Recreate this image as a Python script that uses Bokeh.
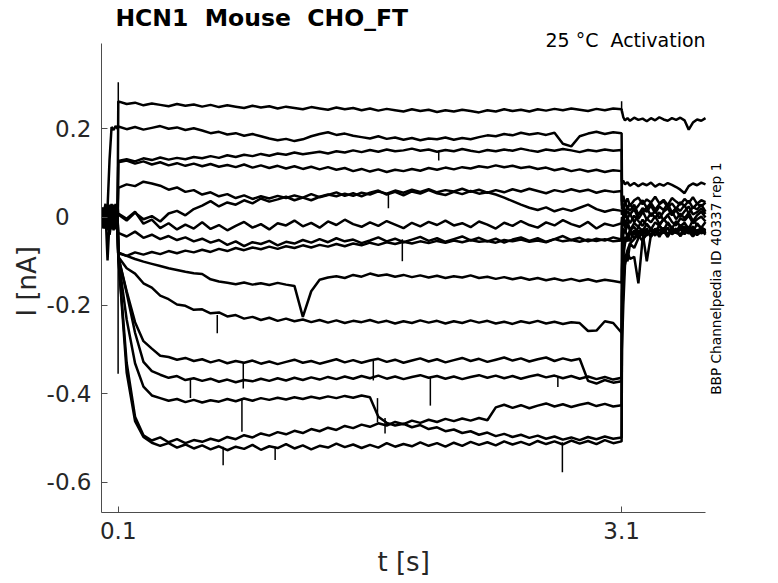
import math
from bokeh.plotting import figure
from bokeh.models import Range1d, FixedTicker, Label, Title
from bokeh.embed import file_html
from bokeh.resources import INLINE

# ---------------- sampling times (s) ----------------
T_PRE = [0.0, 0.012, 0.024, 0.036, 0.048, 0.06, 0.072, 0.084, 0.096]
T_STEP = [round(0.1 + 0.05 * k, 2) for k in range(61)]
T_POST = [3.102, 3.11, 3.12, 3.135, 3.15, 3.175, 3.2, 3.225, 3.25, 3.275, 3.3,
          3.325, 3.35, 3.375, 3.4, 3.425, 3.45, 3.475, 3.5, 3.525, 3.55, 3.575, 3.6]

# ---------------- current traces (pA) ----------------
A_PRE = [10, -18, 22, -9, 16, -25, 12, -6, 18]
A_STEP = [262, 256, 259, 253, 257, 254, 251, 256, 252, 255,
          250, 254, 249, 253, 250, 247, 252, 248, 251, 246,
          250, 247, 244, 249, 246, 243, 248, 244, 247, 242,
          246, 241, 245, 242, 239, 244, 240, 243, 238, 242,
          239, 243, 240, 237, 242, 239, 244, 240, 243, 239,
          244, 241, 245, 242, 246, 243, 240, 245, 242, 246, 244]
A_POST = [240, 226, 219, 224, 218, 225, 220, 223, 217, 224, 219, 226, 221, 218, 224, 220, 225, 219, 198, 214, 221, 218, 224]

B_PRE = [4, -14, 12, 20, 130, 204, 197, 206, 200]
B_STEP = [205, 199, 204, 198, 202, 206, 200, 203, 197, 201,
          196, 190, 193, 187, 190, 184, 188, 183, 178, 174,
          177, 172, 176, 183, 188, 192, 186, 189, 184, 181,
          178, 183, 177, 180, 175, 179, 174, 178, 176, 180,
          175, 179, 176, 181, 185, 183, 188, 185, 191, 187,
          190, 186, 191, 166, 160, 183, 189, 193, 188, 192, 190]
B_POST = [80, 82, 74, 79, 71, 77, 70, 76, 72, 78, 69, 75, 71, 77, 73, 68, 62, 54, 70, 76, 72, 78, 74]

C_PRE = [-14, 20, -6, 26, -18, 9, -22, 15, 4]
C_STEP = [127, 131, 126, 133, 129, 135, 130, 134, 131, 136,
          133, 138, 134, 140, 136, 141, 138, 143, 139, 144,
          141, 146, 142, 145, 148, 144, 149, 146, 151, 147,
          152, 148, 153, 149, 151, 155, 150, 153, 148, 152,
          149, 154, 150, 147, 152, 149, 153, 150, 155, 151,
          148, 153, 150, 154, 151, 147, 152, 149, 153, 150, 152]
C_POST = [35, 48, 30, 42, 25, 38, 44, 29, 40, 33, 46, 31, 39, 27, 43, 35, 28, 41, 32, 45, 30, 38, 34]

D_PRE = [18, -10, 8, -30, 22, -4, 28, -16, 10]
D_STEP = [124, 128, 121, 126, 119, 124, 117, 122, 116, 121,
          115, 120, 114, 118, 113, 119, 112, 117, 111, 116,
          110, 115, 109, 114, 108, 113, 107, 111, 104, 109,
          103, 108, 102, 107, 104, 109, 105, 111, 107, 112,
          108, 113, 110, 115, 112, 117, 113, 116, 111, 114,
          109, 112, 106, 110, 104, 108, 103, 107, 102, 106, 104]
D_POST = [28, 12, 35, 20, 30, 15, 26, 38, 21, 32, 17, 29, 36, 22, 31, 18, 34, 25, 37, 20, 30, 24, 33]

E_PRE = [-6, 14, -24, 6, -14, 30, -8, 20, -12]
E_STEP = [66, 74, 70, 80, 76, 71, 62, 67, 57, 61,
          51, 56, 47, 52, 43, 49, 41, 47, 42, 48,
          43, 49, 44, 38, 46, 51, 47, 53, 48, 55,
          51, 58, 53, 60, 55, 62, 57, 63, 56, 61,
          58, 64, 57, 62, 55, 61, 56, 63, 58, 64,
          59, 54, 61, 57, 63, 58, 62, 55, 60, 57, 59]
E_POST = [18, 30, 8, 22, 14, 28, 5, 20, 12, 26, 9, 24, 16, 30, 10, 21, 14, 27, 8, 23, 17, 28, 12]

F_PRE = [12, 4, -16, 18, -40, -8, 24, -20, 6]
F_STEP = [6, -8, 10, -5, 2, -10, 8, 14, 4, 18,
          26, 36, 24, 33, 28, 38, 31, 42, 35, 40,
          46, 38, 44, 52, 45, 50, 56, 48, 54, 47,
          55, 60, 51, 57, 49, 58, 53, 61, 54, 50,
          57, 52, 59, 53, 56, 51, 44, 36, 28, 21,
          16, 22, 13, 19, 14, 21, 28, 18, 12, 17, 14]
F_POST = [5, 20, -2, 14, 6, 18, -4, 10, 22, 2, 15, -3, 12, 20, 4, 16, 0, 13, 24, 6, 11, 19, 7]

G_PRE = [-20, 8, 30, -12, 10, -28, 4, -10, 22]
G_STEP = [8, -4, 12, -15, -6, -25, -14, -28, -17, -26,
          -12, -27, -18, -30, -20, -11, -24, -16, -28, -14,
          -19, -8, -21, -13, -24, -10, -18, -6, -16, -22,
          -12, -20, -9, -17, -25, -13, -21, -11, -18, -8,
          -19, -14, -23, -10, -17, -26, -13, -20, -9, -18,
          -24, -12, -19, -7, -16, -22, -11, -26, -15, -20, -14]
G_POST = [0, -10, 12, -4, 8, -12, 6, 14, -6, 9, -2, 11, -8, 5, 13, -5, 8, -3, 10, -9, 4, 12, -1]

H_PRE = [4, -26, 12, -98, -6, 14, -18, 26, -8]
H_STEP = [-36, -44, -33, -47, -40, -50, -43, -52, -46, -55,
          -49, -58, -52, -63, -55, -66, -57, -61, -54, -64,
          -56, -60, -52, -58, -50, -57, -48, -55, -51, -59,
          -53, -46, -55, -49, -57, -51, -45, -54, -48, -56,
          -50, -44, -53, -47, -55, -49, -58, -51, -46, -54,
          -48, -56, -50, -43, -52, -47, -55, -49, -53, -46, -51]
H_POST = [-10, 5, -18, -2, -14, 3, -9, -20, -4, -12, 2, -16, -6, 4, -11, -19, -3, -8, 3, -14, -5, 1, -10]

H2_PRE = [22, -8, -14, 20, -22, 6, -30, 8, -16]
H2_STEP = [-82, -88, -80, -85, -79, -84, -77, -82, -76, -80,
           -74, -79, -72, -77, -70, -75, -69, -73, -67, -72,
           -66, -70, -64, -69, -63, -67, -61, -66, -60, -64,
           -58, -63, -57, -61, -56, -60, -55, -59, -54, -58,
           -53, -57, -52, -56, -54, -58, -52, -55, -51, -56,
           -53, -57, -50, -55, -52, -56, -51, -54, -50, -55, -53]
H2_POST = [-20, -5, -25, -10, -30, -14, -22, -6, -18, -28, -12, -20, -4, -16, -26, -9, -21, -13, -27, -7, -18, -24, -11]

I_PRE = [-10, 16, -4, -22, 24, -12, 10, -24, 12]
I_STEP = [-80, -88, -95, -101, -106, -111, -116, -120, -124, -127,
          -129, -141, -146, -149, -152, -148, -153, -150, -154, -149,
          -153, -156, -226, -168, -142, -137, -134, -138, -131, -135,
          -128, -133, -130, -135, -131, -136, -132, -137, -133, -138,
          -134, -137, -132, -138, -135, -140, -136, -141, -137, -142,
          -138, -143, -139, -144, -140, -145, -141, -146, -142, -145, -148]
I_POST = [-60, -25, -35, -18, -28, -40, -22, -32, -15, -27, -36, -20, -30, -12, -25, -33, -18, -29, -22, -35, -14, -26, -31]

J_PRE = [8, -20, 18, 2, -16, 20, -6, 14, -20]
J_STEP = [-90, -116, -128, -150, -160, -178, -186, -198, -201, -210,
          -209, -218, -216, -225, -222, -230, -226, -233, -228, -235,
          -230, -236, -232, -238, -233, -239, -234, -240, -235, -238,
          -233, -239, -235, -241, -236, -240, -234, -239, -235, -241,
          -236, -240, -234, -239, -235, -241, -237, -242, -236, -240,
          -235, -241, -237, -242, -238, -240, -258, -257, -236, -240, -262]
J_POST = [-120, -40, -28, -45, -30, -22, -38, -27, -42, -25, -34, -19, -31, -40, -24, -36, -28, -21, -35, -26, -39, -23, -30]

K_PRE = [-24, 6, -10, 14, 6, -18, 22, -12, 2]
K_STEP = [-90, -168, -238, -281, -298, -314, -317, -323, -319, -326,
          -322, -329, -324, -331, -326, -330, -325, -332, -327, -333,
          -328, -323, -330, -326, -332, -327, -322, -329, -324, -330,
          -325, -321, -328, -323, -330, -325, -320, -327, -322, -329,
          -324, -319, -326, -321, -328, -323, -318, -325, -320, -327,
          -322, -318, -326, -320, -325, -321, -371, -377, -369, -375, -372]
K_POST = [-150, -70, -45, -55, -35, -48, -30, -40, -26, -44, -32, -38, -24, -41, -30, -35, -22, -39, -28, -43, -33, -25, -37]

L_PRE = [14, -4, 24, -18, -8, 12, -20, 30, -6]
L_STEP = [-90, -172, -262, -328, -349, -357, -364, -360, -369, -365,
          -371, -366, -373, -368, -374, -369, -372, -366, -371, -365,
          -370, -364, -369, -363, -368, -362, -367, -361, -366, -360,
          -365, -359, -366, -361, -367, -362, -358, -364, -360, -366,
          -361, -367, -362, -358, -364, -359, -365, -360, -366, -361,
          -357, -363, -359, -365, -360, -366, -361, -367, -362, -368, -364]
L_POST = [-180, -90, -60, -40, -55, -30, -46, -35, -28, -42, -26, -38, -31, -45, -27, -36, -40, -24, -33, -44, -29, -37, -32]

M_PRE = [-8, 22, -18, 8, 28, -6, 16, -28, 10]
M_STEP = [-90, -232, -331, -384, -404, -410, -416, -412, -419, -414,
          -420, -415, -418, -412, -417, -411, -416, -410, -414, -409,
          -413, -408, -412, -407, -411, -406, -410, -405, -409, -404,
          -408, -452, -466, -472, -468, -476, -471, -480, -476, -485,
          -481, -489, -485, -493, -488, -496, -491, -498, -493, -500,
          -495, -502, -497, -504, -499, -505, -498, -503, -497, -502, -499]
M_POST = [-220, -120, -85, -100, -60, -70, -48, -35, -100, -40, -30, -45, -28, -38, -34, -26, -43, -31, -37, -29, -41, -33, -27]

N1_PRE = [20, -16, 6, -24, 12, 20, -14, 4, -10]
N1_STEP = [-90, -352, -462, -498, -511, -518, -512, -522, -515, -524,
           -517, -526, -519, -528, -520, -525, -516, -527, -519, -523,
           -514, -524, -517, -526, -518, -522, -513, -521, -515, -523,
           -516, -522, -512, -520, -514, -519, -510, -518, -512, -520,
           -511, -518, -509, -516, -510, -517, -508, -515, -509, -516,
           -507, -514, -508, -515, -506, -513, -507, -514, -505, -512, -508]
N1_POST = [-300, -200, -110, -80, -95, -90, -150, -50, -40, -30, -42, -28, -36, -25, -39, -32, -27, -35, -22, -38, -30, -26, -34]

N2_PRE = [-16, 10, -26, 16, -20, -2, 26, -18, 14]
N2_STEP = [-90, -330, -452, -494, -506, -499, -510, -503, -512, -505,
           -509, -502, -507, -498, -503, -494, -499, -490, -495, -487,
           -492, -484, -489, -480, -485, -477, -482, -473, -478, -470,
           -475, -467, -472, -464, -469, -461, -466, -459, -464, -457,
           -462, -456, -461, -455, -460, -431, -425, -432, -426, -433,
           -427, -422, -429, -424, -430, -425, -421, -428, -423, -429, -426]
N2_POST = [-260, -150, -95, -75, -60, -50, -40, -55, -32, -45, -28, -40, -35, -24, -38, -30, -43, -27, -33, -21, -36, -29, -40]

# short transients / spikes (time s, from nA, to nA)
SPIKE_T = [0.1, 0.099, 3.1, 0.69, 0.845, 0.53, 0.837, 0.725, 1.035, 2.747, 1.793, 1.96, 1.71, 2.01, 1.62, 2.72, 1.645, 1.69]
SPIKE_FROM = [0.0, 0.0, 0.235, -0.222, -0.33, -0.368, -0.41, -0.52, -0.52, -0.51, -0.05, -0.363, 0.055, 0.15, -0.325, -0.36, -0.41, -0.455]
SPIKE_TO = [0.305, -0.355, 0.262, -0.263, -0.388, -0.41, -0.486, -0.562, -0.55, -0.578, -0.1, -0.427, 0.02, 0.128, -0.37, -0.385, -0.465, -0.49]

X_LIMITS = (0.0, 3.6)
Y_LIMITS = (-0.669, 0.393)
X_TICKS = [0.1, 3.1]
X_TICK_LABELS = ["0.1", "3.1"]
Y_TICKS = [0.2, 0.0, -0.2, -0.4, -0.6]
NBSP = "\u00a0"
Y_TICK_LABELS = ["0.2", "0" + NBSP * 3, "-0.2", "-0.4", "-0.6"]
X_LABEL = "t [s]"
Y_LABEL = "I [nA]"

TITLE = "HCN1" + NBSP + " Mouse" + NBSP + " CHO_FT"
CONDITION = "25 °C" + NBSP + " Activation"
SIDE_NOTE = "BBP Channelpedia ID 40337 rep 1"

TRACES = [(A_PRE, A_STEP, A_POST), (B_PRE, B_STEP, B_POST), (C_PRE, C_STEP, C_POST),
          (D_PRE, D_STEP, D_POST), (E_PRE, E_STEP, E_POST), (F_PRE, F_STEP, F_POST),
          (G_PRE, G_STEP, G_POST), (H_PRE, H_STEP, H_POST), (H2_PRE, H2_STEP, H2_POST),
          (I_PRE, I_STEP, I_POST), (J_PRE, J_STEP, J_POST), (K_PRE, K_STEP, K_POST),
          (L_PRE, L_STEP, L_POST), (M_PRE, M_STEP, M_POST), (N1_PRE, N1_STEP, N1_POST),
          (N2_PRE, N2_STEP, N2_POST)]

FONT = "DejaVu Sans"
AX = "#262626"

# The axes occupy 604 x 469 px; the drawing frame is extended up and to the right
# so that the title, the condition and the side note (inside the frame) are not clipped.
PX_X = (X_LIMITS[1] - X_LIMITS[0]) / 604.0
PX_Y = (Y_LIMITS[1] - Y_LIMITS[0]) / 469.0
FRAME_W, FRAME_H = 659, 507

p = figure(frame_width=FRAME_W, frame_height=FRAME_H,
           x_range=Range1d(X_LIMITS[0], X_LIMITS[0] + FRAME_W * PX_X),
           y_range=Range1d(Y_LIMITS[0], Y_LIMITS[0] + FRAME_H * PX_Y),
           output_backend="svg", toolbar_location=None,
           min_border_left=101, min_border_top=5, min_border_right=4, min_border_bottom=71)
p.outline_line_color = None
p.xgrid.visible = False
p.ygrid.visible = False
p.background_fill_color = "white"
p.border_fill_color = "white"

t_all = T_PRE + T_STEP + T_POST
for pre, step, post in TRACES:
    vals = [v / 1000.0 for v in (pre + step + post)]
    p.line(t_all, vals, line_color="black", line_width=2.5)

p.segment(x0=SPIKE_T, y0=SPIKE_FROM, x1=SPIKE_T, y1=SPIKE_TO, line_color="black", line_width=1.5)

for ax in (p.xaxis, p.yaxis):
    ax.axis_line_color = "#4d4d4d"
    ax.axis_line_width = 1
    ax.major_tick_line_color = "#4d4d4d"
    ax.major_tick_in = 6
    ax.major_tick_out = 0
    ax.minor_tick_line_color = None
    ax.major_label_text_font = FONT
    ax.major_label_text_font_size = "23px"
    ax.major_label_text_color = AX

p.xaxis.bounds = X_LIMITS
p.yaxis.bounds = Y_LIMITS
p.xaxis.ticker = FixedTicker(ticks=X_TICKS)
p.xaxis.major_label_overrides = dict(zip(X_TICKS, X_TICK_LABELS))
p.yaxis.ticker = FixedTicker(ticks=Y_TICKS)
p.yaxis.major_label_overrides = dict(zip(Y_TICKS, Y_TICK_LABELS))
p.xaxis.major_label_standoff = 9
p.yaxis.major_label_standoff = 10

# axis titles, placed along the axes' own extent (not the extended frame)
p.add_layout(Title(text=X_LABEL, align="left", offset=276, standoff=6,
                   text_font=FONT, text_font_size="26px", text_font_style="normal",
                   text_color=AX), "below")
p.add_layout(Title(text=Y_LABEL, align="left", offset=196, standoff=4,
                   text_font=FONT, text_font_size="26px", text_font_style="normal",
                   text_color=AX), "left")

p.add_layout(Label(x=0.083, y=0.4497, text=TITLE, text_font=FONT, text_font_style="bold",
                   text_font_size="23.5px", text_align="left", text_baseline="alphabetic",
                   text_color="black"))
p.add_layout(Label(x=3.6006, y=0.4015, text=CONDITION, text_font=FONT,
                   text_font_size="19px", text_align="right", text_baseline="alphabetic",
                   text_color="black"))
p.add_layout(Label(x=3.663, y=-0.1397, text=SIDE_NOTE, text_font=FONT, angle=math.pi / 2,
                   text_font_size="13.7px", text_align="center", text_baseline="alphabetic",
                   text_color="black"))

open("out.html", "w").write(file_html(p, INLINE))
